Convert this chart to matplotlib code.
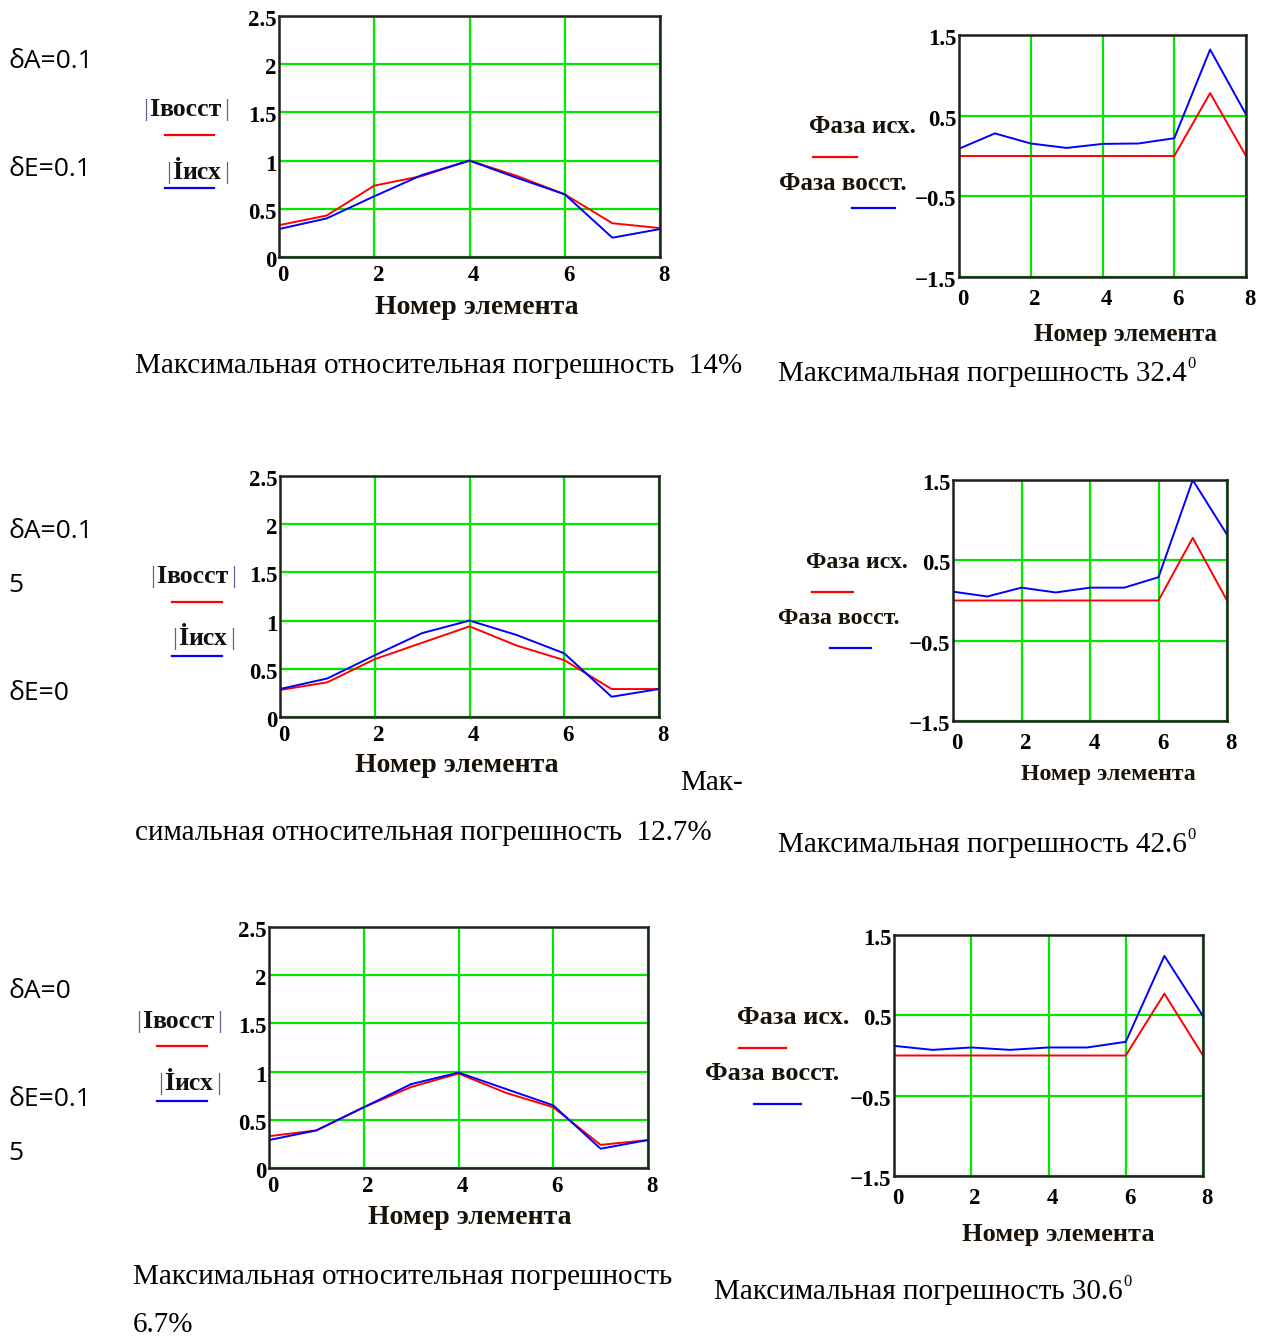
import matplotlib.pyplot as plt
from matplotlib.lines import Line2D
from matplotlib.transforms import ScaledTranslation

W, H = 1264, 1342
SERIF = 'Liberation Serif'
GREEN = '#00e800'
FRAME = '#202020'
PURPLE = '#6a5a9a'

# --------------------------
# Values
# --------------------------
elements = [0, 1, 2, 3, 4, 5, 6, 7, 8]
x_ticks = [0, 2, 4, 6, 8]
x_tick_labels = ['0', '2', '4', '6', '8']
amp_ticks = [0, 0.5, 1, 1.5, 2, 2.5]
amp_tick_labels = ['0', '0.5', '1', '1.5', '2', '2.5']
phase_ticks = [-1.5, -0.5, 0.5, 1.5]
phase_tick_labels = ['\u22121.5', '\u22120.5', '0.5', '1.5']

# |I восст| (red) and |I исх| (blue)
amp_rec_1 = [0.33, 0.43, 0.74, 0.84, 1.00, 0.84, 0.65, 0.35, 0.30]
amp_src_1 = [0.29, 0.40, 0.63, 0.85, 1.00, 0.82, 0.65, 0.20, 0.29]
amp_rec_2 = [0.28, 0.36, 0.60, 0.77, 0.94, 0.74, 0.59, 0.29, 0.29]
amp_src_2 = [0.29, 0.40, 0.64, 0.87, 1.00, 0.85, 0.66, 0.21, 0.29]
amp_rec_3 = [0.33, 0.39, 0.63, 0.84, 0.98, 0.78, 0.63, 0.24, 0.29]
amp_src_3 = [0.29, 0.39, 0.63, 0.87, 0.99, 0.82, 0.65, 0.20, 0.29]

# Фаза исх. (red) and Фаза восст. (blue)
phase_src_1 = [0, 0, 0, 0, 0, 0, 0, 0.78, 0]
phase_rec_1 = [0.09, 0.28, 0.155, 0.10, 0.15, 0.155, 0.22, 1.32, 0.515]
phase_src_2 = [0, 0, 0, 0, 0, 0, 0, 0.78, 0]
phase_rec_2 = [0.11, 0.05, 0.16, 0.10, 0.16, 0.16, 0.29, 1.50, 0.82]
phase_src_3 = [0, 0, 0, 0, 0, 0, 0, 0.77, 0]
phase_rec_3 = [0.12, 0.07, 0.10, 0.07, 0.10, 0.10, 0.17, 1.24, 0.49]

params = [
    [('δA=0.1', 62), ('δE=0.1', 170)],
    [('δA=0.1', 532), ('5', 586), ('δE=0', 694)],
    [('δA=0', 992), ('δE=0.1', 1100), ('5', 1154)],
]

fig = plt.figure(figsize=(W / 100, H / 100), dpi=100)
renderer = fig.canvas.get_renderer()


def fx(x):
    return x / W


def fy(y):
    return 1 - y / H


def add_box(left, top, right, bottom):
    return fig.add_axes([fx(left), fy(bottom), (right - left) / W, (bottom - top) / H])


def style(ax, xpad, tick_size):
    ax.set_axisbelow(True)
    ax.grid(True, color=GREEN, lw=1.6)
    for sp in ax.spines.values():
        sp.set_color(FRAME)
        sp.set_linewidth(1.8)
    ax.tick_params(length=0, labelsize=tick_size)
    ax.tick_params(axis='x', pad=xpad)
    ax.tick_params(axis='y', pad=2)
    for lbl in ax.get_xticklabels() + ax.get_yticklabels():
        lbl.set_fontfamily(SERIF)
        lbl.set_fontweight('bold')
    shift_x = ScaledTranslation(4 / 100, 0, fig.dpi_scale_trans)
    for lbl in ax.get_xticklabels():
        lbl.set_transform(lbl.get_transform() + shift_x)
    shift_y = ScaledTranslation(0, -2 / 100, fig.dpi_scale_trans)
    for lbl in ax.get_yticklabels():
        lbl.set_transform(lbl.get_transform() + shift_y)


def seg(x0, x1, y, color):
    fig.add_artist(Line2D([fx(x0), fx(x1)], [fy(y), fy(y)], color=color, lw=1.6,
                          transform=fig.transFigure))


def pieces(x, y, parts):
    # draw text parts one after another on the same baseline
    cx = x
    for s, kw, gap in parts:
        t = fig.text(fx(cx + gap), fy(y), s, ha='left', va='baseline', **kw)
        cx = t.get_window_extent(renderer).x1


def amp_panel(box, rec, src, xlabel_pos, leg):
    ax = add_box(*box)
    ax.plot(elements, rec, color='#ff0000', lw=1.4)
    ax.plot(elements, src, color='#0000ff', lw=1.4)
    ax.set_xlim(0, 8)
    ax.set_ylim(0, 2.5)
    ax.set_xticks(x_ticks, x_tick_labels)
    ax.set_yticks(amp_ticks, amp_tick_labels)
    style(ax, xpad=5.5, tick_size=16.5)
    fig.text(fx(xlabel_pos[0]), fy(xlabel_pos[1]), 'Номер элемента', ha='center', va='center',
             family=SERIF, weight='bold', size=20, color='#1a1208')
    # Mathcad style legend labels
    (x1, b1, lx1, ly1), (x2, b2, lx2, ly2) = leg
    bar = dict(family=SERIF, size=18, color=PURPLE)
    big = dict(family=SERIF, size=19, weight='bold', color='#111111')
    sub = dict(family=SERIF, size=18.5, weight='bold', color='#111111')
    pieces(x1, b1, [('|', bar, 0), ('I', big, 1), ('восст', sub, 0), ('|', bar, 3)])
    pieces(x2, b2, [('|', bar, 0), ('İ', big, 1), ('исх', sub, 0), ('|', bar, 3)])
    seg(lx1[0], lx1[1], ly1, '#ff0000')
    seg(lx2[0], lx2[1], ly2, '#0000ff')
    return ax


def phase_panel(box, src, rec, xlabel_pos, size, leg):
    ax = add_box(*box)
    ax.plot(elements, src, color='#ff0000', lw=1.4)
    ax.plot(elements, rec, color='#0000ff', lw=1.4)
    ax.set_xlim(0, 8)
    ax.set_ylim(-1.5, 1.5)
    ax.set_xticks(x_ticks, x_tick_labels)
    ax.set_yticks(phase_ticks, phase_tick_labels)
    style(ax, xpad=8.5, tick_size=16.5)
    fig.text(fx(xlabel_pos[0]), fy(xlabel_pos[1]), 'Номер элемента', ha='center', va='center',
             family=SERIF, weight='bold', size=size, color='#1a1208')
    (r1, b1, lx1, ly1), (r2, b2, lx2, ly2) = leg
    kw = dict(family=SERIF, weight='bold', size=size, color='#1a1208', ha='right',
              va='baseline')
    fig.text(fx(r1), fy(b1), 'Фаза исх.', **kw)
    fig.text(fx(r2), fy(b2), 'Фаза восст.', **kw)
    seg(lx1[0], lx1[1], ly1, '#ff0000')
    seg(lx2[0], lx2[1], ly2, '#0000ff')
    return ax


# --------------------------
# Panels
# --------------------------
amp_panel((279, 16, 660, 257), amp_rec_1, amp_src_1, (477, 308),
          [(143, 116, (165, 214), 135), (166, 179, (165, 214), 188)])
amp_panel((280, 476, 659, 717), amp_rec_2, amp_src_2, (457, 765),
          [(150, 583, (172, 222), 602), (172, 645, (172, 222), 656)])
amp_panel((269, 927, 648, 1168), amp_rec_3, amp_src_3, (470, 1218),
          [(136, 1028, (157, 207), 1046), (158, 1090, (157, 207), 1101)])

phase_panel((959, 35, 1246, 277), phase_src_1, phase_rec_1, (1125, 335), 18,
            [(916, 133, (813, 857), 157), (907, 190, (852, 895), 208)])
phase_panel((953, 480, 1227, 721), phase_src_2, phase_rec_2, (1108, 775), 17.2,
            [(908, 568, (812, 853), 592), (900, 624, (830, 871), 648)])
phase_panel((894, 935, 1203, 1176), phase_src_3, phase_rec_3, (1058, 1235), 19,
            [(849, 1024, (739, 786), 1048), (839, 1080, (754, 801), 1104)])

# --------------------------
# Parameter notes on the left
# --------------------------
for row in params:
    for s, y in row:
        fig.text(fx(8), fy(y), s, ha='left', va='center', family='Open Sans', size=19)

# --------------------------
# Captions
# --------------------------
cap = dict(family=SERIF, size=21, ha='left', va='center', color='black')


def degree_caption(x, y, s):
    t = fig.text(fx(x), fy(y), s, **cap)
    x1 = t.get_window_extent(renderer).x1
    fig.text(fx(x1 + 1), fy(y - 10), '0', family=SERIF, size=12, ha='left', va='center')


fig.text(fx(135), fy(366), 'Максимальная относительная погрешность  14%', **cap)
degree_caption(778, 374, 'Максимальная погрешность 32.4')
fig.text(fx(680), fy(783), 'Мак-', **cap)
fig.text(fx(135), fy(833), 'симальная относительная погрешность  12.7%', **cap)
degree_caption(778, 845, 'Максимальная погрешность 42.6')
fig.text(fx(133), fy(1277), 'Максимальная относительная погрешность', **cap)
fig.text(fx(133), fy(1325), '6.7%', **cap)
degree_caption(714, 1292, 'Максимальная погрешность 30.6')

fig.savefig('out.png', dpi=100, facecolor='white')
